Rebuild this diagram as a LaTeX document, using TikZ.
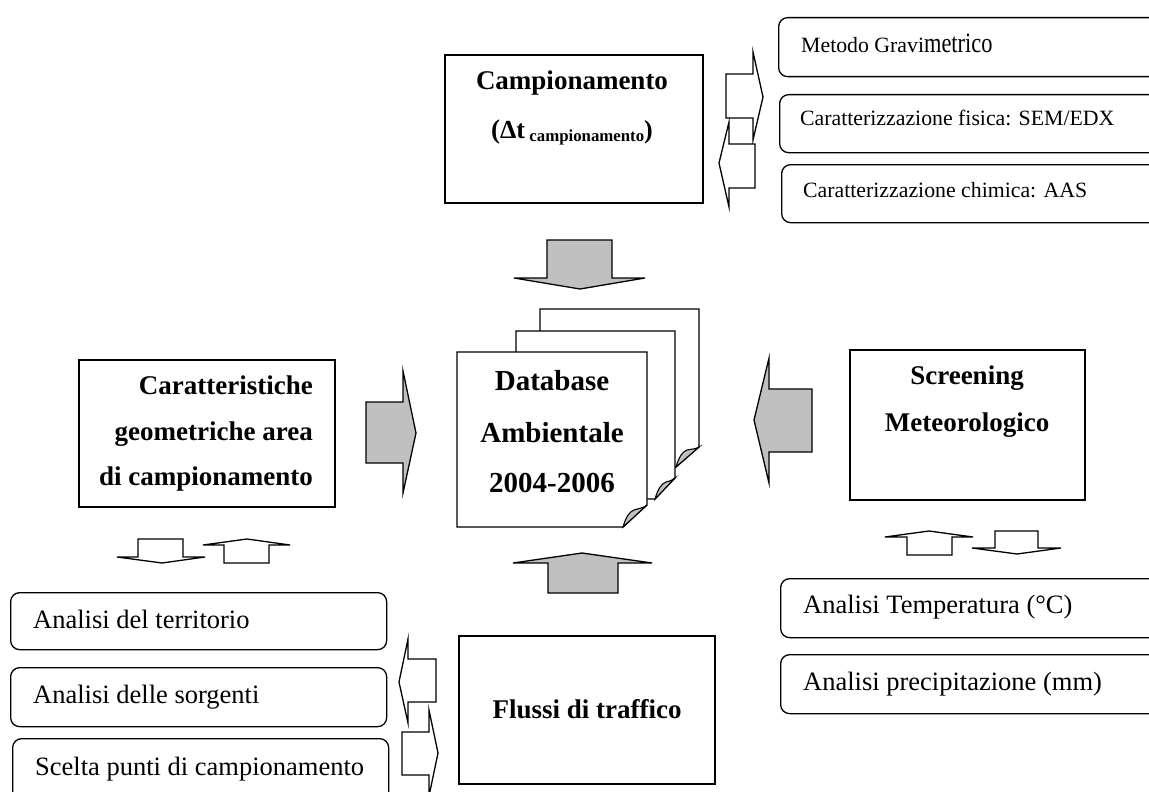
\documentclass[tikz,border=0pt]{standalone}
\usepackage{fontspec}
\setmainfont{Liberation Serif}
\begin{document}
\begin{tikzpicture}[x=1pt,y=-1pt,
  box/.style={draw, line width=1.6pt, fill=white, inner sep=0pt, anchor=north west},
  rbox/.style={draw, line width=1.3pt, rounded corners=9pt, fill=white, inner sep=0pt, anchor=north west},
  garrow/.style={draw, line width=1.3pt, fill=agray, line join=miter},
  warrow/.style={draw, line width=1.3pt, fill=white, line join=miter},
  page/.style={draw, line width=1.3pt, fill=white},
  flap/.style={draw, line width=1.1pt, fill=agray},
  big/.style={font=\fontsize{27}{30}\selectfont\bfseries, inner sep=0pt},
  dbt/.style={font=\fontsize{29}{32}\selectfont\bfseries, inner sep=0pt},
  med/.style={font=\fontsize{26.5}{30}\selectfont, inner sep=0pt, anchor=base west},
  sml/.style={font=\fontsize{21.8}{26}\selectfont, inner sep=0pt, anchor=base west}]
\definecolor{agray}{HTML}{C0C0C0}
\useasboundingbox (0,0) rectangle (1149,792);
\clip (0,0) rectangle (1149,792);

% main boxes
\node[box, minimum width=258pt, minimum height=148pt] (camp) at (444,54) {};
\node[box, minimum width=256pt, minimum height=147pt] (car) at (78,359) {};
\node[box, minimum width=235pt, minimum height=150pt] (scr) at (849,349) {};
\node[box, minimum width=256pt, minimum height=148pt] (flu) at (458,635) {};

% rounded boxes
\node[rbox, minimum width=400pt, minimum height=59pt] (met) at (778,17) {};
\node[rbox, minimum width=400pt, minimum height=58pt] (fis) at (779,94) {};
\node[rbox, minimum width=400pt, minimum height=58pt] (chi) at (781,164) {};
\node[rbox, minimum width=400pt, minimum height=59pt] (temp) at (780,578) {};
\node[rbox, minimum width=400pt, minimum height=59pt] (prec) at (780,654) {};
\node[rbox, minimum width=376pt, minimum height=57pt] (ter) at (10,592) {};
\node[rbox, minimum width=376pt, minimum height=59pt] (sor) at (10,667) {};
\node[rbox, minimum width=376pt, minimum height=62pt] (sce) at (12,738) {};

% database pages
\path[page] (540,309) -- (699,309) -- (699,447) -- (676,467) -- (540,467) -- cycle;
\path[flap] (676,467) .. controls (679,457) and (682,452) .. (687,450) .. controls (692,449) and (696,449) .. (699,447) -- cycle;
\path[page] (516,331) -- (675,331) -- (675,478) -- (655,499) -- (516,499) -- cycle;
\path[flap] (655,499) .. controls (658,489) and (661,484) .. (666,482) .. controls (670,481) and (673,480) .. (675,478) -- cycle;
\path[page] (457,352) -- (647,352) -- (647,505) -- (623,527) -- (457,527) -- cycle;
\path[flap] (623,527) .. controls (626,517) and (629,512) .. (634,510) .. controls (640,508) and (644,508) .. (647,505) -- cycle;
\coordinate (db) at (552,440);

% texts
\node[big, anchor=base] (tcamp) at (572,89) {Campionamento};
\node[big, anchor=base] (tdt) at (572,138) {(\fontsize{26}{28}\selectfont Δt\,\raisebox{-3pt}{\fontsize{16.8}{18}\selectfont campionamento})};
\node[dbt, anchor=base] (tdb1) at (552,390) {Database};
\node[dbt, anchor=base] (tdb2) at (552,442) {Ambientale};
\node[dbt, anchor=base] (tdb3) at (552,492) {2004-2006};
\node[big, anchor=base east] (tcar1) at (313,394) {Caratteristiche};
\node[big, anchor=base east] (tcar2) at (313,440) {geometriche area};
\node[big, anchor=base east] (tcar3) at (313,485) {di campionamento};
\node[big, anchor=base] (tscr1) at (967,384) {Screening};
\node[big, anchor=base] (tscr2) at (967,431) {Meteorologico};
\node[big, anchor=base] (tflu) at (587,718) {Flussi di traffico};

\node[sml] (tmet) at (801,53) {Metodo Gravi{\fontsize{28}{30}\selectfont\scalebox{0.8}[1]{metrico}}};
\node[sml] (tfis) at (800,125) {Caratterizzazione fisica: SEM/EDX};
\node[sml] (tchi) at (803,197) {Caratterizzazione chimica: AAS};
\node[med] (ttemp) at (803,613) {Analisi Temperatura (°C)};
\node[med] (tprec) at (803,690) {Analisi precipitazione (mm)};
\node[med] (tter) at (33,628) {Analisi del territorio};
\node[med] (tsor) at (33,703) {Analisi delle sorgenti};
\node[med] (tsce) at (35,775) {Scelta punti di campionamento};

% gray block arrows
\draw[garrow] (547,240) -- (612,240) -- (612,278) -- (645,278) -- (580,289) -- (514,278) -- (547,278) -- cycle;
\draw[garrow] (548,593) -- (618,593) -- (618,563) -- (652,563) -- (582,553) -- (513,563) -- (548,563) -- cycle;
\draw[garrow] (366,402) -- (403,402) -- (403,371) -- (416,433) -- (403,493) -- (403,463) -- (366,463) -- cycle;
\draw[garrow] (812,389) -- (769,389) -- (769,358) -- (754,420) -- (769,483) -- (769,452) -- (812,452) -- cycle;

% white block arrows (top right)
\draw[warrow] (726,74) -- (753,74) -- (753,52) -- (763,97) -- (753,140) -- (753,118) -- (726,118) -- cycle;
\draw[warrow] (755,144) -- (729,144) -- (729,122) -- (719,163) -- (729,207) -- (729,188) -- (755,188) -- cycle;

% white block arrows (below Caratteristiche)
\draw[warrow] (138,539) -- (183,539) -- (183,557) -- (205,557) -- (162,563) -- (117,557) -- (138,557) -- cycle;
\draw[warrow] (224,563) -- (269,563) -- (269,545) -- (290,545) -- (247,539) -- (203,545) -- (224,545) -- cycle;

% white block arrows (below Screening)
\draw[warrow] (907,555) -- (952,555) -- (952,537) -- (973,537) -- (929,531) -- (885,537) -- (907,537) -- cycle;
\draw[warrow] (995,531) -- (1038,531) -- (1038,548) -- (1061,548) -- (1017,554) -- (972,548) -- (995,548) -- cycle;

% white block arrows (left of Flussi)
\draw[warrow] (436,659) -- (408,659) -- (408,639) -- (399,682) -- (408,723) -- (408,702) -- (436,702) -- cycle;
\draw[warrow] (402,732) -- (429,732) -- (429,710) -- (438,753) -- (429,796) -- (429,775) -- (402,775) -- cycle;
\end{tikzpicture}
\end{document}
